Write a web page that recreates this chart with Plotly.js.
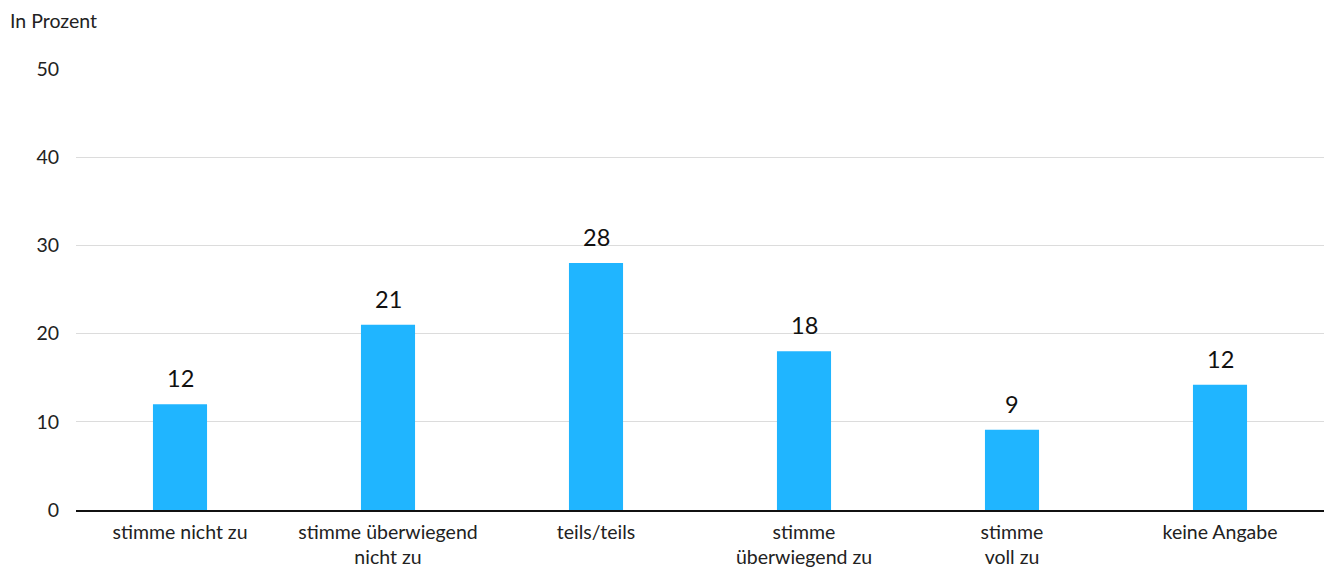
<!DOCTYPE html>
<html>
<head>
<meta charset="utf-8">
<script src="https://cdn.plot.ly/plotly-3.0.1.min.js"></script>
<style>html,body{margin:0;padding:0;background:#fff;}#chart{width:1326px;height:567px;}</style>
</head>
<body>
<div id="chart"></div>
<script>
const categories = ["stimme nicht zu", "stimme überwiegend<br>nicht zu", "teils/teils", "stimme<br>überwiegend zu", "stimme<br>voll zu", "keine Angabe"];
const values = [12, 21, 28, 18, 9.1, 14.2];
const valueLabels = ["12", "21", "28", "18", "9", "12"];
const yTicks = [0, 10, 20, 30, 40, 50];

const trace = {
  type: "bar",
  x: categories,
  y: values,
  marker: {color: "#20b5ff"},
  width: 0.26,
  hoverinfo: "none"
};

const annotations = categories.map((c, i) => ({
  x: c, y: values[i], xref: "x", yref: "y",
  text: valueLabels[i], showarrow: false,
  yanchor: "bottom", yshift: 10,
  font: {family: "Lato, sans-serif", size: 23.5, color: "#111"}
}));
annotations.push({
  xref: "paper", yref: "paper", x: -0.0545, y: 1.111,
  xanchor: "left", yanchor: "middle",
  text: "In Prozent", showarrow: false,
  font: {family: "Lato, sans-serif", size: 19.5, color: "#222"}
});

const layout = {
  width: 1326, height: 567,
  margin: {l: 76, r: 2, t: 69, b: 57},
  paper_bgcolor: "#fff", plot_bgcolor: "#fff",
  showlegend: false,
  font: {family: "Lato, sans-serif", size: 19.5, color: "#222"},
  xaxis: {
    type: "category",
    showgrid: false,
    showline: true, linecolor: "#111", linewidth: 1.5,
    ticks: "",
    ticklabelstandoff: 4,
    tickfont: {family: "Lato, sans-serif", size: 19.5, color: "#222"}
  },
  yaxis: {
    range: [0, 50],
    tickvals: yTicks,
    ticktext: yTicks.map(String),
    showgrid: true, gridcolor: "#dcdcdc", gridwidth: 1,
    zeroline: false, showline: false,
    ticklabelstandoff: 16,
    tickfont: {family: "Lato, sans-serif", size: 19.5, color: "#222"}
  },
  annotations: annotations
};

Plotly.newPlot("chart", [trace], layout, {displayModeBar: false, staticPlot: true});
</script>
</body>
</html>
